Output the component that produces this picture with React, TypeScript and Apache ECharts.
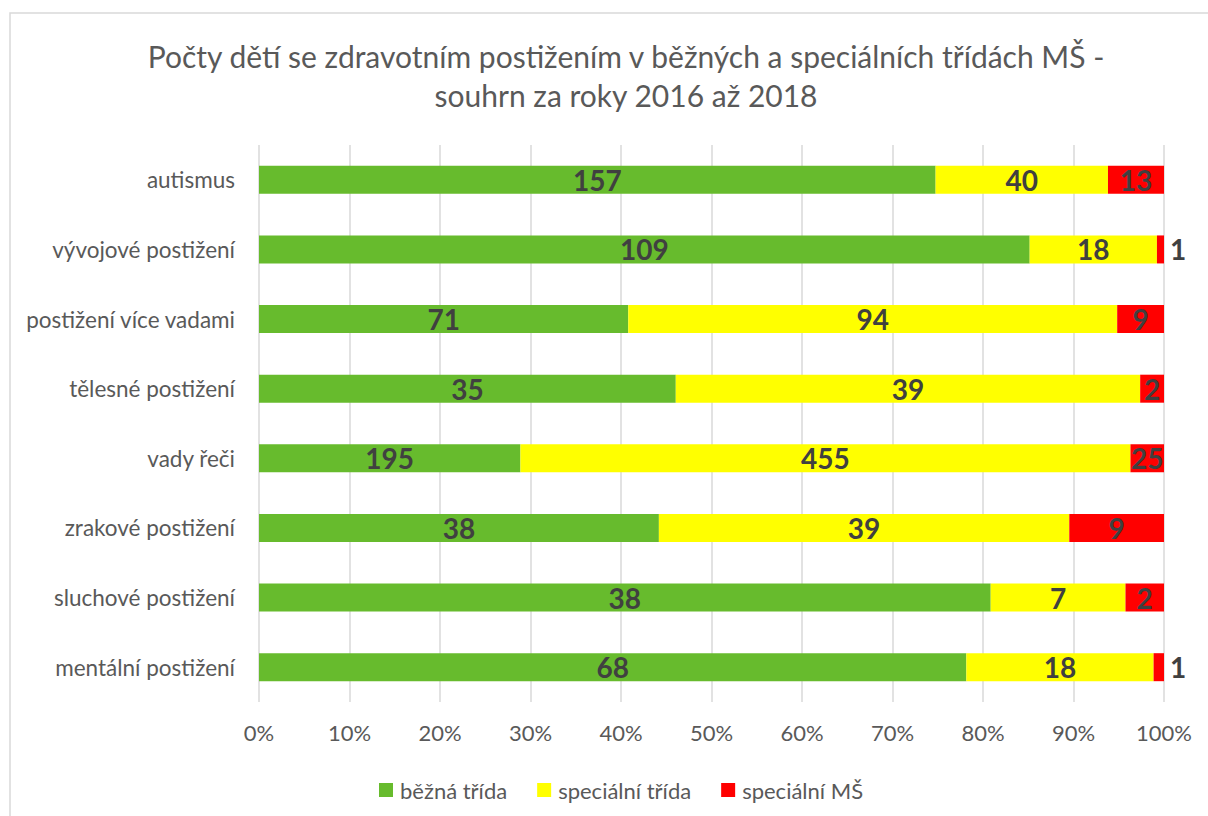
import React, { useEffect, useRef } from "react";
import * as echarts from "echarts";

const categories = [
  "autismus",
  "vývojové postižení",
  "postižení více vadami",
  "tělesné postižení",
  "vady řeči",
  "zrakové postižení",
  "sluchové postižení",
  "mentální postižení",
];
const bezna = [157, 109, 71, 35, 195, 38, 38, 68];
const specialniTrida = [40, 18, 94, 39, 455, 39, 7, 18];
const specialniMS = [13, 1, 9, 2, 25, 9, 2, 1];
const seriesNames = ["běžná třída", "speciální třída", "speciální MŠ"];
const colors = ["#67bb2d", "#ffff00", "#ff0000"];
const xTicks = [0, 10, 20, 30, 40, 50, 60, 70, 80, 90, 100];

const FONT = "Lato, 'Noto Sans', sans-serif";

export default function App() {
  const ref = useRef<HTMLDivElement>(null);
  useEffect(() => {
    if (!ref.current) return;
    const chart = echarts.init(ref.current, null, { renderer: "svg" });
    const raw = [bezna, specialniTrida, specialniMS];
    const totals = categories.map((_, i) => bezna[i] + specialniTrida[i] + specialniMS[i]);
    const series = raw.map((arr, s) => ({
      name: seriesNames[s],
      type: "bar",
      stack: "total",
      barWidth: 28,
      itemStyle: { color: colors[s] },
      label: {
        show: true,
        position: "inside",
        color: "#404040",
        fontWeight: "bold",
        fontSize: 28,
        fontFamily: FONT,
        formatter: (p: any) => String(arr[p.dataIndex]),
      },
      data: arr.map((v, i) => {
        const item: any = { value: (v / totals[i]) * 100 };
        if (s === 2 && v === 1) {
          item.label = { position: "right", distance: 6 };
        }
        return item;
      }),
    }));
    chart.setOption({
      animation: false,
      backgroundColor: "#ffffff",
      title: {
        text: "Počty dětí se zdravotním postižením v běžných a speciálních třídách MŠ -\nsouhrn za roky 2016 až 2018",
        left: 621,
        textAlign: "center",
        top: 31,
        textStyle: {
          fontFamily: FONT,
          fontWeight: "normal",
          fontSize: 30,
          lineHeight: 39,
          color: "#595959",
        },
      },
      graphic: [
        {
          type: "rect",
          shape: { x: 10, y: 13, width: 1400, height: 1000 },
          style: { fill: "none", stroke: "#d9d9d9", lineWidth: 1.5 },
          silent: true,
        },
      ],
      legend: {
        top: 774,
        left: 374,
        itemWidth: 14,
        itemHeight: 14,
        itemGap: 30,
        icon: "rect",
        textStyle: { fontFamily: FONT, fontSize: 22, color: "#595959", padding: [0, 0, 0, 2] },
        data: seriesNames,
      },
      grid: { left: 259, right: 44, top: 145, bottom: 114 },
      xAxis: {
        type: "value",
        min: 0,
        max: 100,
        interval: 10,
        axisLine: { show: false },
        axisTick: { show: false },
        splitLine: { show: true, lineStyle: { color: "#d9d9d9", width: 1.5 } },
        axisLabel: {
          fontFamily: FONT,
          fontSize: 22,
          color: "#595959",
          margin: 19,
          formatter: (v: number) => (xTicks.includes(v) ? v + "%" : ""),
        },
      },
      yAxis: {
        type: "category",
        inverse: true,
        data: categories,
        axisLine: { show: false },
        axisTick: { show: false },
        axisLabel: { fontFamily: FONT, fontSize: 22.5, color: "#595959", margin: 24 },
      },
      series,
    });
    return () => chart.dispose();
  }, []);
  return (
    <div
      ref={ref}
      style={{ position: "fixed", left: 0, top: 0, width: 1208, height: 816 }}
    />
  );
}
